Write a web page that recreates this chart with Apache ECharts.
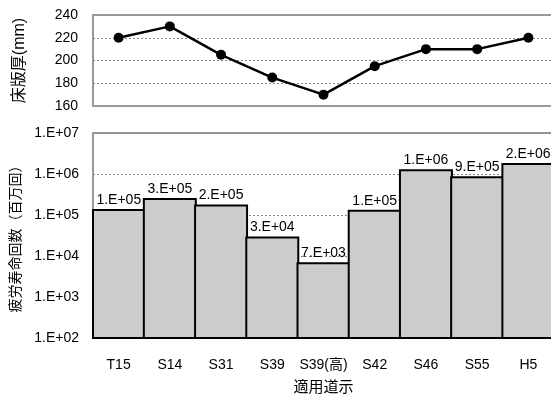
<!DOCTYPE html>
<html>
<head>
<meta charset="utf-8">
<script src="https://cdn.jsdelivr.net/npm/echarts@6/dist/echarts.min.js"></script>
<style>
html,body{margin:0;padding:0;background:#fff;}
#chart{width:551px;height:394px;}
</style>
</head>
<body>
<div id="chart"></div>
<script>
// 適用道示ごとの床版厚と疲労寿命回数
const categories = ['T15', 'S14', 'S31', 'S39', 'S39(高)', 'S42', 'S46', 'S55', 'H5'];
const slabThickness = [220, 230, 205, 185, 170, 195, 210, 210, 220];      // mm
const fatigueLife = [1.4e5, 2.6e5, 1.8e5, 3.0e4, 7.0e3, 1.35e5, 1.3e6, 8.8e5, 1.85e6];
const thicknessTicks = { min: 160, max: 240, step: 20 };
const lifeTicks = { min: 1e2, max: 1e7 };

const FONT = '"Liberation Sans", "Noto Sans CJK JP", sans-serif';

// Excel-style "0.E+00" number format
function sciLabel(v) {
  let e = Math.floor(Math.log10(v) + 1e-9);
  let m = Math.round(v / Math.pow(10, e));
  if (m >= 10) { m = 1; e += 1; }
  const sign = e < 0 ? '-' : '+';
  const a = Math.abs(e);
  return m + '.E' + sign + (a < 10 ? '0' + a : a);
}

const chart = echarts.init(document.getElementById('chart'), null, { renderer: 'canvas' });

const dotted = { show: true, lineStyle: { color: '#888', type: [2, 2], width: 1 } };

chart.setOption({
  animation: false,
  textStyle: { fontFamily: FONT },
  grid: [
    { left: 93, top: 15, width: 461, height: 91, show: true, borderColor: '#999', borderWidth: 2, backgroundColor: 'transparent', outerBoundsMode: 'none', containLabel: false },
    { left: 93, top: 133, width: 461, height: 205, show: false, outerBoundsMode: 'none', containLabel: false }
  ],
  xAxis: [
    {
      type: 'category', gridIndex: 0, data: categories, boundaryGap: true,
      axisLine: { show: false }, axisTick: { show: false }, axisLabel: { show: false }
    },
    {
      type: 'category', gridIndex: 1, data: categories, boundaryGap: true,
      axisLine: { show: true, lineStyle: { color: '#555', width: 2 } },
      axisTick: { show: false },
      axisLabel: { color: '#000', fontSize: 14, fontFamily: FONT, margin: 20, interval: 0 },
      name: '適用道示', nameLocation: 'middle', nameGap: 42,
      nameTextStyle: { color: '#000', fontSize: 15, fontFamily: FONT }
    }
  ],
  yAxis: [
    {
      type: 'value', gridIndex: 0,
      min: thicknessTicks.min, max: thicknessTicks.max, interval: thicknessTicks.step,
      axisLine: { show: false }, axisTick: { show: false },
      axisLabel: { color: '#000', fontSize: 14, fontFamily: FONT, margin: 15 },
      splitLine: Object.assign({ showMinLine: false, showMaxLine: false }, dotted),
      name: '床版厚(mm)', nameLocation: 'middle', nameGap: 65, nameRotate: 90,
      nameTextStyle: { color: '#000', fontSize: 16, fontFamily: FONT }
    },
    {
      type: 'log', gridIndex: 1, logBase: 10,
      min: lifeTicks.min, max: lifeTicks.max,
      axisLine: { show: true, lineStyle: { color: '#999', width: 2 } },
      axisTick: { show: false },
      axisLabel: { color: '#000', fontSize: 14, fontFamily: FONT, margin: 14, formatter: sciLabel },
      splitLine: Object.assign({ showMinLine: false }, dotted),
      name: '疲労寿命回数（百万回）', nameLocation: 'middle', nameGap: 66, nameRotate: 90,
      nameTextStyle: { color: '#000', fontSize: 14, fontFamily: FONT }
    }
  ],
  series: [
    {
      type: 'line', xAxisIndex: 0, yAxisIndex: 0, data: slabThickness,
      symbol: 'circle', symbolSize: 10,
      lineStyle: { color: '#000', width: 2.5 },
      itemStyle: { color: '#000' }
    },
    {
      type: 'bar', xAxisIndex: 1, yAxisIndex: 1, data: fatigueLife,
      barWidth: 54, clip: true,
      itemStyle: { color: '#cccccc', borderColor: '#000', borderWidth: 2 },
      label: { show: true, position: 'top', distance: 2, color: '#000', fontSize: 14, fontFamily: FONT, formatter: p => sciLabel(p.value) }
    }
  ],
  graphic: [
    // top frame line of the lower plot area
    { type: 'line', shape: { x1: 93, y1: 133, x2: 551, y2: 133 }, style: { stroke: '#999', lineWidth: 2 }, z: 0 }
  ]
});
</script>
</body>
</html>
